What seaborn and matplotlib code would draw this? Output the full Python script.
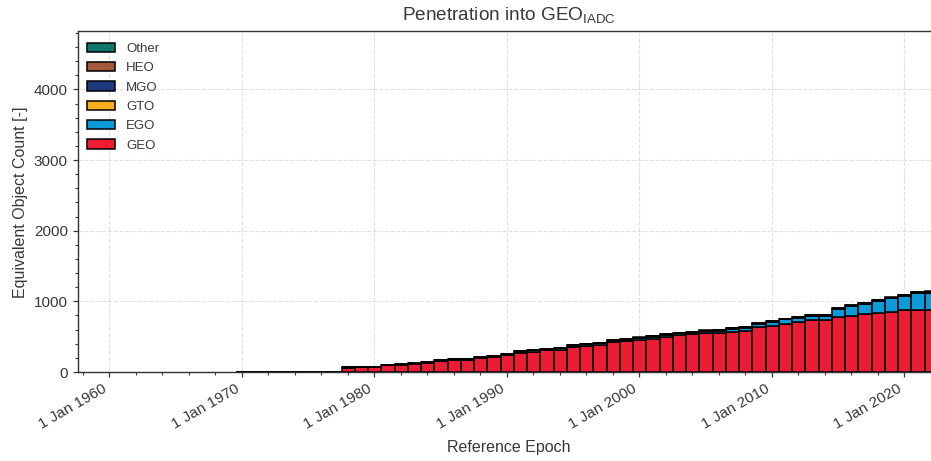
import datetime as dt
import numpy as np
import pandas as pd
import matplotlib
matplotlib.use("Agg")
import matplotlib.pyplot as plt
import matplotlib.dates as mdates
from matplotlib.ticker import AutoMinorLocator, MultipleLocator, FuncFormatter
from matplotlib.patches import Patch
import seaborn as sns

# ---------------- data ----------------
years = list(range(1970, 2023))

geo = [2, 6, 6, 0, 0, 0, 0, 0,
       55, 69, 69, 97, 102, 116, 130, 149, 168, 168, 196, 210,
       239, 276, 290, 305, 314, 356, 370, 380, 422, 432,
       455, 474, 493, 517, 531, 549, 559, 573, 587, 630,
       658, 686, 705, 733, 733, 776, 795, 818, 842, 852,
       874, 880, 880]
ego = [0, 0, 0, 0, 0, 0, 0, 0,
       8, 3, 3, 3, 3, 3, 8, 12, 8, 8, 12, 12,
       12, 14, 18, 18, 22, 18, 22, 26, 22, 26,
       27, 27, 36, 31, 26, 32, 27, 41, 41, 52,
       55, 58, 62, 63, 63, 113, 138, 147, 163, 190,
       202, 233, 240]
gto = [0] * 8 + [1] * 12 + [2] * 33
mgo = [0] * 8 + [1] * 22 + [2] * 10 + [4] * 5 + [6] * 4 + [8, 10, 12, 14]
heo = [0] * 8 + [1] * 12 + [2] * 33
other = [0] * 8 + [1] * 20 + [2] * 15 + [3] * 6 + [4] * 4

orbits = ["Other", "HEO", "MGO", "GTO", "EGO", "GEO"]
colors = ["#0e776d", "#a5583a", "#213a7e", "#f9ae1e", "#0c9ad8", "#ec1c34"]
series = {"Other": other, "HEO": heo, "MGO": mgo, "GTO": gto, "EGO": ego, "GEO": geo}

x_ticks_years = [1960, 1970, 1980, 1990, 2000, 2010, 2020]

# ---------------- frame ----------------
rows = []
for name in orbits:
    for y, v in zip(years, series[name]):
        rows.append({"date": mdates.date2num(dt.datetime(y, 1, 1)) + 0.05 * 365.25,
                     "orbit": name, "value": v})
df = pd.DataFrame(rows)

sns.set_theme(style="ticks")
plt.rcParams["font.family"] = ["Liberation Sans", "DejaVu Sans"]
plt.rcParams["mathtext.fontset"] = "custom"
plt.rcParams["mathtext.rm"] = "Liberation Sans"
plt.rcParams["mathtext.it"] = "Liberation Sans:italic"
plt.rcParams["text.color"] = "0.22"
plt.rcParams["axes.labelcolor"] = "0.22"
plt.rcParams["xtick.color"] = "0.22"
plt.rcParams["ytick.color"] = "0.22"

fig = plt.figure(figsize=(9.31, 4.61), dpi=100)
W, H = 931, 461
LEFT = 77.5
AX_W = 940 - LEFT
AX_H = 340.5
ax = fig.add_axes([LEFT / W, (H - 372) / H, AX_W / W, AX_H / H])

edges = [mdates.date2num(dt.datetime(y, 1, 1)) - 0.45 * 365.25 for y in range(1970, 2024)]

sns.histplot(data=df, x="date", weights="value", hue="orbit", hue_order=orbits,
             palette=dict(zip(orbits, colors)), multiple="stack", bins=edges,
             element="bars", edgecolor="black", linewidth=1.1, alpha=1,
             legend=False, ax=ax)

# axes limits
px_per_year = 13.25
x1960 = mdates.date2num(dt.datetime(1960, 1, 1))
x0 = x1960 - (109 - LEFT) / px_per_year * 365.25
x1 = x0 + AX_W / px_per_year * 365.25
ax.set_xlim(x0, x1)
ax.set_ylim(0, 4820)

ax.set_xticks([mdates.date2num(dt.datetime(y, 1, 1)) for y in x_ticks_years])
ax.xaxis.set_minor_locator(mdates.YearLocator(2))
ax.xaxis.set_major_formatter(FuncFormatter(
    lambda v, p: f"{mdates.num2date(v).day} {mdates.num2date(v):%b %Y}"))
ax.yaxis.set_major_locator(MultipleLocator(1000))
ax.yaxis.set_minor_locator(AutoMinorLocator(5))

ax.tick_params(axis="both", which="major", length=3.5, width=0.9, labelsize=11)
ax.tick_params(axis="both", which="minor", length=2, width=0.8)
for lbl in ax.get_xticklabels():
    lbl.set_rotation(30)
    lbl.set_ha("right")

ax.grid(True, which="major", linestyle="--", color="0.88", linewidth=0.8)
ax.set_axisbelow(True)
for s in ax.spines.values():
    s.set_color("0.2")
    s.set_linewidth(1.0)

ax.set_xlabel("Reference Epoch", fontsize=11.5, labelpad=6)
ax.set_ylabel("Equivalent Object Count [-]", fontsize=11.5)
ax.set_title("Penetration into GEO$_{\\mathrm{IADC}}$", fontsize=13.7, pad=8, color="0.22")

handles = [Patch(facecolor=c, edgecolor="black", linewidth=1.1, label=n)
           for n, c in zip(orbits, colors)]
ax.legend(handles=handles, loc="upper left", frameon=False, fontsize=9.5,
          bbox_to_anchor=(4.5 / AX_W, 1 - 5.8 / AX_H), borderaxespad=0,
          labelspacing=0.54, handlelength=2.1, handletextpad=0.85)

fig.savefig("out.png", dpi=100)
